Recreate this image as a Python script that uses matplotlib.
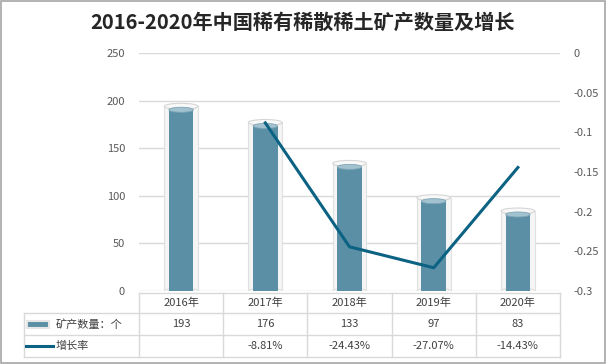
import matplotlib.pyplot as plt
from matplotlib.patches import Ellipse, Rectangle
from matplotlib.lines import Line2D

plt.rcParams['font.family'] = ['Noto Sans CJK SC', 'DejaVu Sans']

years = ['2016年', '2017年', '2018年', '2019年', '2020年']
counts = [193, 176, 133, 97, 83]
growth = [None, -0.0881, -0.2443, -0.2707, -0.1443]
growth_labels = ['', '-8.81%', '-24.43%', '-27.07%', '-14.43%']
left_ticks = [0, 50, 100, 150, 200, 250]
right_ticks = [0, -0.05, -0.1, -0.15, -0.2, -0.25, -0.3]

bar_col = '#5b8fa6'
bar_top = '#a3c2cf'
line_col = '#0b6282'
txt_col = '#595959'
grid_col = '#d9d9d9'

W, H = 606, 364
fig = plt.figure(figsize=(W / 100, H / 100), dpi=100)
fig.patch.set_facecolor('white')
fig.add_artist(Rectangle((0.001, 0.002), 0.997, 0.995, transform=fig.transFigure,
                         fill=False, edgecolor='#a6a6a6', lw=1.2))

x0, x1, ytop, ybot = 139, 560, 53, 291
ax = fig.add_axes([x0 / W, 1 - ybot / H, (x1 - x0) / W, (ybot - ytop) / H])
ax.set_xlim(-0.5, len(years) - 0.5)
ax.set_ylim(0, 250)
ax.set_yticks(left_ticks)
ax.yaxis.grid(True, color=grid_col, lw=1)
ax.set_axisbelow(True)
for s in ax.spines.values():
    s.set_visible(False)
ax.tick_params(axis='y', length=0, colors=txt_col, labelsize=8, pad=10)
ax.tick_params(axis='x', length=0, labelbottom=False)

# px -> data scale for ellipse heights
py = 250 / (ybot - ytop)
ow, iw = 0.40, 0.29
for i, v in enumerate(counts):
    top = v - 2.5 * py
    oh = v + 1
    ax.bar(i, oh, width=ow, color='#f5f5f5', edgecolor='#e0e0e0', lw=0.8, zorder=2)
    ax.bar(i, oh, width=ow * 0.55, color='#fbfbfb', edgecolor='none', zorder=2)
    ax.add_patch(Ellipse((i, oh), ow, 6 * py, facecolor='#f8f8f8', edgecolor='#d6d6d6', lw=0.8, zorder=2))
    ax.add_patch(Ellipse((i, 0), ow, 6 * py, facecolor='#f5f5f5', edgecolor='#e0e0e0', lw=0.8, zorder=2))
    ax.bar(i, top, width=iw, color=bar_col, zorder=3)
    ax.add_patch(Ellipse((i, 0), iw, 5 * py, facecolor=bar_col, edgecolor='none', zorder=3))
    ax.add_patch(Ellipse((i, top), iw, 5 * py, facecolor=bar_top, edgecolor='#7fa6b6', lw=0.6, zorder=4))

ax2 = ax.twinx()
ax2.set_ylim(-0.3, 0)
ax2.set_yticks(right_ticks)
ax2.set_yticklabels(['0', '-0.05', '-0.1', '-0.15', '-0.2', '-0.25', '-0.3'])
for s in ax2.spines.values():
    s.set_visible(False)
ax2.tick_params(axis='y', length=0, colors=txt_col, labelsize=8, pad=10)
gx = [i for i, g in enumerate(growth) if g is not None]
gy = [g for g in growth if g is not None]
ax2.plot(gx, gy, color=line_col, lw=2.2, zorder=5)

fig.text(0.5, 1 - 22 / H, '2016-2020年中国稀有稀散稀土矿产数量及增长',
         ha='center', va='center', fontsize=14.5, fontweight='bold', color='#262626')

# data table
tl = 24
rows = [293, 313, 335, 357]
cw = (x1 - x0) / len(years)
def fx(px):
    return px / W
def fy(px):
    return 1 - px / H
lc = '#d9d9d9'
fig.add_artist(Line2D([fx(x0), fx(x1)], [fy(rows[0])] * 2, color=lc, lw=1))
for r in rows[1:]:
    fig.add_artist(Line2D([fx(tl), fx(x1)], [fy(r)] * 2, color=lc, lw=1))
for k in range(len(years) + 1):
    xx = x0 + k * cw
    fig.add_artist(Line2D([fx(xx)] * 2, [fy(rows[0]), fy(rows[3])], color=lc, lw=1))
fig.add_artist(Line2D([fx(tl)] * 2, [fy(rows[1]), fy(rows[3])], color=lc, lw=1))

tcol = '#404040'
for k, y in enumerate(years):
    cx = x0 + (k + 0.5) * cw
    fig.text(fx(cx), fy((rows[0] + rows[1]) / 2), y, ha='center', va='center', fontsize=8, color=tcol)
    fig.text(fx(cx), fy((rows[1] + rows[2]) / 2), str(counts[k]), ha='center', va='center', fontsize=8, color=tcol)
    fig.text(fx(cx), fy((rows[2] + rows[3]) / 2), growth_labels[k], ha='center', va='center', fontsize=8, color=tcol)

# legend keys
ym = (rows[1] + rows[2]) / 2
fig.add_artist(Rectangle((fx(27), fy(ym + 3.5)), 22 / W, 7 / H, transform=fig.transFigure,
                         facecolor=bar_col, edgecolor='#e6e6e6', lw=1.5))
fig.text(fx(56), fy(ym), '矿产数量：个', ha='left', va='center', fontsize=8, color=tcol)
ym2 = (rows[2] + rows[3]) / 2
fig.add_artist(Line2D([fx(26), fx(53)], [fy(ym2)] * 2, color=line_col, lw=2.2))
fig.text(fx(56), fy(ym2), '增长率', ha='left', va='center', fontsize=8, color=tcol)

fig.savefig('out.png', dpi=100)
